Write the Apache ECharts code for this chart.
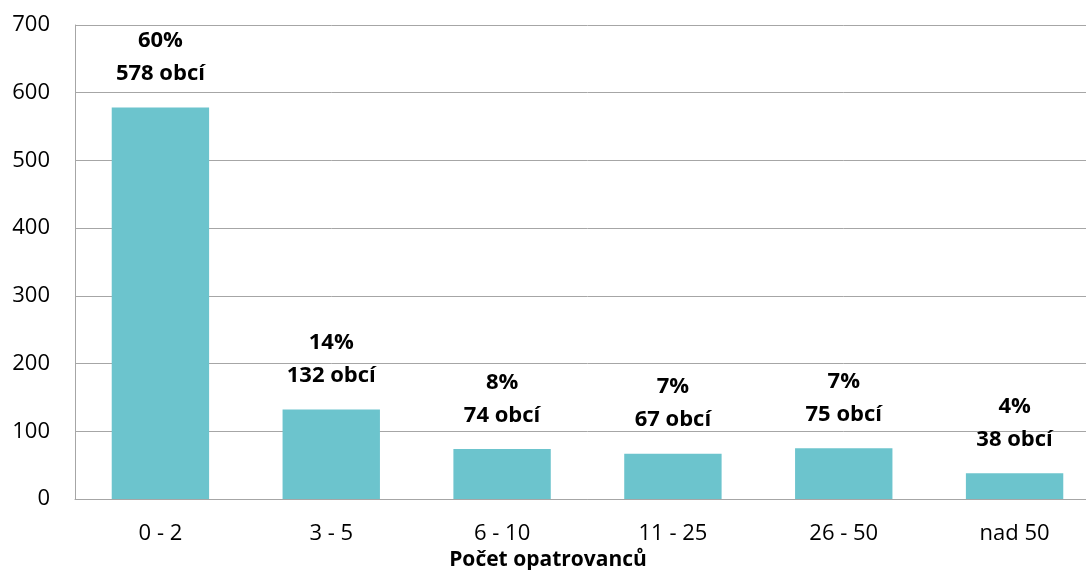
<!DOCTYPE html>
<html><head><meta charset="utf-8">
<script src="https://cdn.jsdelivr.net/npm/echarts@6/dist/echarts.min.js"></script>
<style>html,body{margin:0;padding:0;background:#fff;overflow:hidden}#c{width:1100px;height:570px}</style>
</head><body><div id="c"></div>
<script>
const categories = ['0 - 2', '3 - 5', '6 - 10', '11 - 25', '26 - 50', 'nad 50'];
const values = [578, 132, 74, 67, 75, 38];
const percents = ['60%', '14%', '8%', '7%', '7%', '4%'];
const axisTitle = 'Počet opatrovanců';

const font = '"Open Sans", sans-serif';
const chart = echarts.init(document.getElementById('c'));
chart.setOption({
  animation: false,
  grid: { left: 75, top: 25, right: 0, bottom: 71, containLabel: false },
  xAxis: {
    type: 'category', data: categories,
    axisLine: { show: true, lineStyle: { color: '#a6a6a6', width: 1 } },
    axisTick: { show: false },
    axisLabel: { color: '#000', fontSize: 22, fontFamily: font, margin: 24 }
  },
  yAxis: {
    type: 'value', min: 0, max: 700, interval: 100,
    axisLine: { show: true, lineStyle: { color: '#a6a6a6', width: 1 } },
    axisTick: { show: false },
    splitLine: { lineStyle: { color: '#a6a6a6', width: 1 } },
    axisLabel: { color: '#000', fontSize: 22, fontFamily: font, margin: 25 }
  },
  series: [{
    type: 'bar', data: values, barWidth: '57%',
    itemStyle: { color: '#6cc4cd' },
    label: {
      show: true, position: 'top', distance: 17,
      formatter: p => percents[p.dataIndex] + '\n' + p.value + ' obcí',
      color: '#000', fontSize: 22, fontWeight: 'bold', fontFamily: font, lineHeight: 33
    }
  }],
  graphic: [{
    type: 'text', x: 548, y: 560,
    style: { text: axisTitle, fill: '#000', font: 'bold 21px "Open Sans", sans-serif', textAlign: 'center', textVerticalAlign: 'middle' }
  }]
});
</script></body></html>
